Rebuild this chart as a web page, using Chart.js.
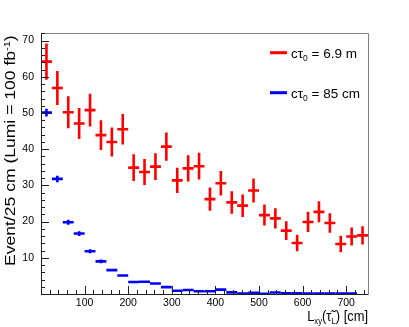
<!DOCTYPE html>
<html>
<head>
<meta charset="utf-8">
<script src="https://cdn.jsdelivr.net/npm/chart.js@4.4.1/dist/chart.umd.min.js"></script>
</head>
<body style="margin:0; background:#fff">
<canvas id="chart" width="409" height="327"></canvas>
<script>
// Bins de 25 cm, 0 -> 750 cm
const binWidth = 25;
const binCenters = [12.5, 37.5, 62.5, 87.5, 112.5, 137.5, 162.5, 187.5, 212.5, 237.5,
                    262.5, 287.5, 312.5, 337.5, 362.5, 387.5, 412.5, 437.5, 462.5, 487.5,
                    512.5, 537.5, 562.5, 587.5, 612.5, 637.5, 662.5, 687.5, 712.5, 737.5];

// c tau = 6.9 m (rouge)
const redValues = [64.2, 56.9, 50.2, 47.1, 50.8, 43.9, 42.0, 45.5, 34.9, 33.7,
                   35.2, 40.7, 31.4, 34.7, 35.3, 26.2, 30.6, 25.3, 24.4, 28.6,
                   21.8, 20.9, 17.5, 14.1, 19.9, 22.7, 19.6, 13.8, 15.9, 16.2];
const redErrors = [5.0, 4.7, 4.4, 4.3, 4.5, 4.1, 4.0, 4.2, 3.7, 3.6,
                   3.7, 3.9, 3.5, 3.6, 3.7, 3.2, 3.4, 3.1, 3.1, 3.3,
                   2.9, 2.8, 2.6, 2.3, 2.8, 2.9, 2.7, 2.3, 2.5, 2.5];

// c tau = 85 cm (bleu)
const blueValues = [50.1, 31.8, 19.8, 16.7, 11.8, 9.0, 6.6, 5.1, 3.3, 3.4,
                    2.9, 1.9, 0.9, 1.1, 0.75, 0.75, 1.2, 0.45, 0.1, 0.3,
                    0.05, 0.4, 0.2, 0.2, 0.15, 0.15, 0.15, 0.15, 0.15, null];
const blueErrors = [1.1, 0.9, 0.7, 0.65, 0.55, 0.5, 0.4, 0.35, 0.3, 0.3,
                    0.25, 0.2, 0.15, 0.15, 0.1, 0.1, 0.15, 0.1, 0.05, 0.05,
                    0.05, 0.05, 0.05, 0.05, 0.05, 0.05, 0.05, 0.05, 0.05, null];

// Etiquettes des axes
const xTickLabels = [100, 200, 300, 400, 500, 600, 700];
const yTickLabels = [10, 20, 30, 40, 50, 60, 70];

const xMin = 0, xMax = 750;
const yMin = 0, yMax = 72.1;

const fontFamily = '"Liberation Sans", Arial, sans-serif';

// Textes (morceaux avec indices / exposants)
const yTitleRuns = [
    { text: 'Event/25 cm (Lumi = 100 fb', size: 14.5, dy: 0 },
    { text: '-1', size: 9, dy: -5 },
    { text: ')', size: 14.5, dy: 0 }
];
const xTitleRuns = [
    { text: 'L', size: 15, dy: 0 },
    { text: 'xy', size: 9, dy: 3 },
    { text: '(τ̃', size: 15, dy: 0 },
    { text: 'L', size: 9, dy: 3 },
    { text: ') [cm]', size: 15, dy: 0 }
];
const legendRuns = [
    [{ text: 'cτ', size: 13.5, dy: 0 }, { text: '0', size: 8.5, dy: 3 }, { text: ' = 6.9 m', size: 13.5, dy: 0 }],
    [{ text: 'cτ', size: 13.5, dy: 0 }, { text: '0', size: 8.5, dy: 3 }, { text: ' = 85 cm', size: 13.5, dy: 0 }]
];

function toPoints(values, errors) {
    const pts = [];
    values.forEach((v, i) => {
        if (v === null) return;
        pts.push({ x: binCenters[i], y: v, ex: binWidth / 2, ey: errors[i] });
    });
    return pts;
}

function runsWidth(ctx, runs) {
    let w = 0;
    runs.forEach(r => {
        ctx.font = r.size + 'px ' + fontFamily;
        w += ctx.measureText(r.text).width;
    });
    return w;
}

function drawRuns(ctx, runs, x, y) {
    runs.forEach(r => {
        ctx.font = r.size + 'px ' + fontFamily;
        ctx.fillText(r.text, x, y + r.dy);
        x += ctx.measureText(r.text).width;
    });
}

// Dessine les croix d'erreur (style ROOT) a partir des echelles
const errorBarPlugin = {
    id: 'errorBars',
    afterDatasetsDraw(chart) {
        const ctx = chart.ctx;
        const xs = chart.scales.x, ys = chart.scales.y;
        const area = chart.chartArea;
        ctx.save();
        ctx.beginPath();
        ctx.rect(area.left, area.top, area.right - area.left, area.bottom - area.top);
        ctx.clip();
        chart.data.datasets.forEach(ds => {
            ctx.strokeStyle = ds.borderColor;
            ctx.lineWidth = ds.barLineWidth;
            ds.data.forEach(p => {
                const x0 = xs.getPixelForValue(p.x - p.ex);
                const x1 = xs.getPixelForValue(p.x + p.ex);
                const xc = xs.getPixelForValue(p.x);
                const yc = ys.getPixelForValue(p.y);
                const y0 = ys.getPixelForValue(p.y - p.ey);
                const y1 = ys.getPixelForValue(p.y + p.ey);
                ctx.beginPath();
                ctx.moveTo(x0, yc);
                ctx.lineTo(x1, yc);
                ctx.moveTo(xc, y0);
                ctx.lineTo(xc, y1);
                ctx.stroke();
            });
        });
        ctx.restore();
    }
};

// Cadre, graduations internes, etiquettes, titres et legende facon ROOT
const framePlugin = {
    id: 'rootFrame',
    afterDraw(chart) {
        const ctx = chart.ctx;
        const xs = chart.scales.x, ys = chart.scales.y;
        const a = chart.chartArea;
        ctx.save();
        ctx.lineWidth = 1;
        ctx.strokeStyle = '#808080';
        ctx.beginPath();
        ctx.moveTo(a.left, a.top + 0.5);
        ctx.lineTo(a.right + 0.5, a.top + 0.5);
        ctx.lineTo(a.right + 0.5, a.bottom);
        ctx.stroke();

        ctx.strokeStyle = '#222';
        ctx.beginPath();
        ctx.moveTo(a.left + 0.5, a.top);
        ctx.lineTo(a.left + 0.5, a.bottom + 0.5);
        ctx.lineTo(a.right + 0.5, a.bottom + 0.5);
        // graduations Y : majeures tous les 10, mineures tous les 2
        for (let v = 0; v <= yMax; v += 2) {
            const y = Math.round(ys.getPixelForValue(v)) + 0.5;
            const len = (v % 10 === 0) ? 8 : 4;
            ctx.moveTo(a.left, y);
            ctx.lineTo(a.left + len, y);
        }
        // graduations X : majeures tous les 100, mineures tous les 20
        for (let v = 0; v <= xMax; v += 20) {
            const x = Math.round(xs.getPixelForValue(v)) + 0.5;
            const len = (v % 100 === 0) ? 8 : 4;
            ctx.moveTo(x, a.bottom);
            ctx.lineTo(x, a.bottom - len);
        }
        ctx.stroke();

        ctx.fillStyle = '#000';

        // etiquettes Y
        ctx.font = '10.5px ' + fontFamily;
        ctx.textAlign = 'right';
        ctx.textBaseline = 'middle';
        yTickLabels.forEach(v => {
            ctx.fillText(String(v), a.left - 7, ys.getPixelForValue(v));
        });

        ctx.textAlign = 'left';
        ctx.textBaseline = 'alphabetic';

        // titre Y (vertical)
        ctx.save();
        ctx.translate(15, 266);
        ctx.rotate(-Math.PI / 2);
        ctx.scale(1.21, 1);
        drawRuns(ctx, yTitleRuns, 0, 0);
        ctx.restore();

        // titre X, aligne a droite du cadre
        ctx.save();
        ctx.translate(a.right, 321);
        ctx.scale(0.86, 1);
        drawRuns(ctx, xTitleRuns, -runsWidth(ctx, xTitleRuns), 0);
        ctx.restore();

        // legende
        const legY = [52.7, 92.7];
        chart.data.datasets.forEach((ds, i) => {
            ctx.fillStyle = ds.borderColor;
            ctx.fillRect(270, legY[i] - 1.5, 17, 3);
            ctx.fillStyle = '#000';
            drawRuns(ctx, legendRuns[i], 291, legY[i] + 4.8);
        });
        ctx.restore();
    }
};

const tickFont = { family: fontFamily, size: 10.5 };

new Chart(document.getElementById('chart').getContext('2d'), {
    type: 'scatter',
    data: {
        datasets: [
            {
                label: 'cτ0 = 6.9 m',
                data: toPoints(redValues, redErrors),
                borderColor: '#ff0000',
                backgroundColor: '#ff0000',
                pointRadius: 0,
                barLineWidth: 2.6
            },
            {
                label: 'cτ0 = 85 cm',
                data: toPoints(blueValues, blueErrors),
                borderColor: '#0000ff',
                backgroundColor: '#0000ff',
                pointRadius: 0,
                barLineWidth: 2.6
            }
        ]
    },
    options: {
        responsive: false,
        devicePixelRatio: 1,
        animation: false,
        layout: { padding: { left: 0, top: 33, right: 41, bottom: 0 } },
        plugins: {
            legend: { display: false },
            tooltip: { enabled: false }
        },
        scales: {
            x: {
                type: 'linear',
                min: xMin,
                max: xMax,
                grid: { display: false, drawTicks: false },
                border: { display: false },
                afterFit: s => { s.height = 33; },
                afterBuildTicks: s => { s.ticks = xTickLabels.map(v => ({ value: v })); },
                ticks: {
                    padding: 3,
                    color: '#000',
                    font: tickFont,
                    maxRotation: 0,
                    autoSkip: false
                }
            },
            y: {
                type: 'linear',
                min: yMin,
                max: yMax,
                grid: { display: false, drawTicks: false },
                border: { display: false },
                afterFit: s => { s.width = 41; },
                afterBuildTicks: s => { s.ticks = yTickLabels.map(v => ({ value: v })); },
                ticks: { display: false }
            }
        }
    },
    plugins: [errorBarPlugin, framePlugin]
});
</script>
</body>
</html>
